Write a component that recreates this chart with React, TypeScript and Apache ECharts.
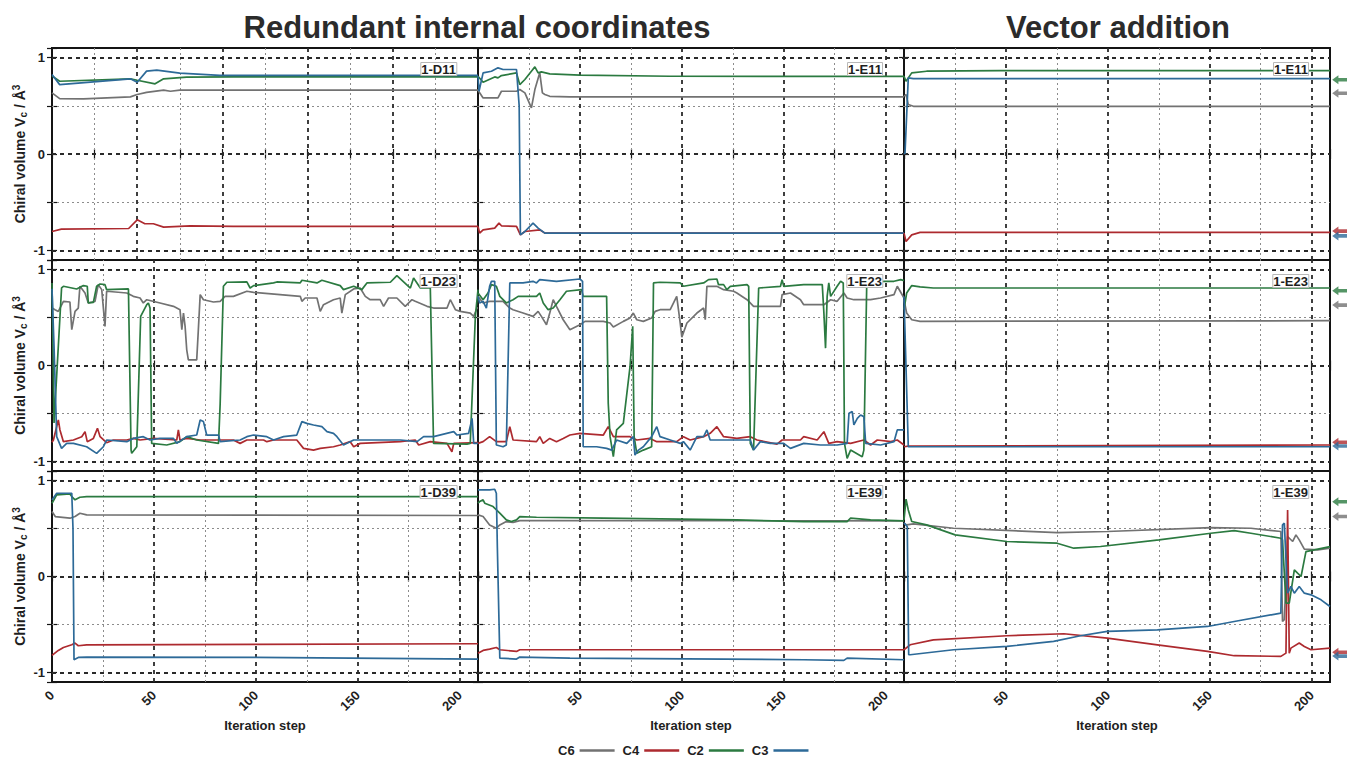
import React, { useEffect, useRef } from 'react';
import * as echarts from 'echarts';

// ---------------- data ----------------
const SERIES_NAMES = ['C6', 'C4', 'C2', 'C3'];
const COLORS = ['#727272', '#ad2a2f', '#2b7a40', '#2d6a98'];
const X_LABELS = [0, 50, 100, 150, 200];
const Y_LABELS = [-1, 0, 1];

// 1-D11, redundant internal coordinates (its own x scale, 0..50)
const D11_C6 = [[0, 0.635], [0.9, 0.575], [3.7, 0.572], [9.2, 0.593], [10, 0.617], [11.1, 0.64], [13.1, 0.662], [13.9, 0.651], [15, 0.662], [50, 0.662]];
const D11_C4 = [[0, -0.804], [1.1, -0.78], [9, -0.773], [10, -0.683], [10.9, -0.724], [11.9, -0.724], [13.1, -0.759], [16.2, -0.745], [21.3, -0.752], [50, -0.752]];
const D11_C2 = [[0, 0.81], [0.9, 0.755], [9.2, 0.78], [10, 0.765], [12.1, 0.728], [13.1, 0.78], [15.8, 0.797], [21.3, 0.8], [50, 0.8]];
const D11_C3 = [[0, 0.825], [0.9, 0.72], [9.2, 0.78], [10, 0.745], [11.1, 0.86], [12.3, 0.87], [15, 0.84], [19.7, 0.815], [50, 0.815]];

// 1-E11, redundant internal coordinates
const IC_E11_C6 = [[0, 0.662], [2.5, 0.582], [9.8, 0.582], [11.5, 0.651], [18.9, 0.651], [20.5, 0.669], [23, 0.634], [26.2, 0.478], [27.9, 0.669], [30.3, 0.842], [31.6, 0.634], [32.8, 0.617], [35.2, 0.599], [45, 0.593], [209, 0.593]];
const IC_E11_C4 = [[0, -0.752], [0.8, -0.821], [2.5, -0.787], [8.2, -0.769], [10.3, -0.717], [11.5, -0.745], [18.9, -0.752], [20.8, -0.839], [23, -0.804], [30.3, -0.787], [32.8, -0.821], [209, -0.821]];
const IC_E11_C2 = [[0, 0.807], [2.5, 0.745], [8.2, 0.8], [9.8, 0.79], [11.5, 0.814], [18.9, 0.842], [20.5, 0.72], [23, 0.773], [26.2, 0.859], [27.9, 0.904], [29.5, 0.842], [31.1, 0.852], [35.2, 0.832], [50, 0.818], [94.3, 0.807], [209, 0.805]];
const IC_E11_C3 = [[0, 0.807], [0.5, 0.651], [2.5, 0.842], [6.6, 0.859], [9.8, 0.894], [12.3, 0.877], [18.9, 0.877], [20.2, 0.5], [20.8, -0.839], [23, -0.804], [27, -0.717], [29.5, -0.769], [32.8, -0.821], [209, -0.821]];

// 1-E11, vector addition
const VA_E11_C6 = [[0, 0.6], [1, 0.617], [2.1, 0.513], [4.6, 0.495], [209, 0.495]];
const VA_E11_C4 = [[0, -0.821], [1, -0.908], [3.8, -0.839], [7.9, -0.814], [209, -0.814]];
const VA_E11_C2 = [[0, 0.807], [1, 0.755], [3.8, 0.842], [11.1, 0.859], [47.2, 0.866], [209, 0.866]];
const VA_E11_C3 = [[0, 0.0], [0.5, 0.01], [2.1, 0.79], [4.6, 0.783], [209, 0.783]];
const VA_E11_REF = [0.63, -0.8, 0.77, -0.85];

// 1-D23, redundant internal coordinates
const D23_C6 = [[0, 0.6], [1.5, 0.582], [3.1, 0.564], [5.6, 0.669], [8.8, 0.662], [9.7, 0.373], [11.3, 0.564], [12.9, 0.599], [13.7, 0.826], [16.2, 0.756], [17.8, 0.652], [21.1, 0.669], [22.7, 0.843], [24.4, 0.791], [26, 0.408], [26.8, 0.774], [36.7, 0.756], [39.9, 0.721], [43.2, 0.704], [44.8, 0.652], [46.5, 0.686], [53, 0.652], [59.6, 0.617], [62.8, 0.582], [63.7, 0.373], [64.5, 0.547], [65.3, 0.408], [66.1, 0.164], [66.9, 0.059], [71, 0.059], [71.8, 0.373], [72.7, 0.739], [74.3, 0.686], [79.2, 0.662], [82.5, 0.669], [84.9, 0.721], [89, 0.721], [95.6, 0.774], [98.9, 0.763], [121.8, 0.721], [122.6, 0.669], [124.2, 0.704], [130, 0.704], [131.6, 0.564], [133.2, 0.634], [138.1, 0.686], [141.4, 0.704], [142.2, 0.547], [143.9, 0.739], [148, 0.798], [151.2, 0.808], [153.7, 0.721], [156.1, 0.686], [161, 0.686], [162.7, 0.617], [165.1, 0.704], [169.2, 0.704], [173.3, 0.617], [176.6, 0.686], [178.2, 0.669], [184, 0.617], [187.2, 0.599], [193.8, 0.599], [195.4, 0.686], [197.9, 0.582], [200.3, 0.564], [205.2, 0.547], [206.9, 0.512], [208.5, 0.599], [209, 0.6]];
const D23_C4 = [[0, -0.8], [0.7, -0.777], [3.1, -0.568], [3.9, -0.672], [5.6, -0.794], [10.5, -0.777], [14.6, -0.742], [16.2, -0.69], [17.3, -0.794], [20.3, -0.76], [22.3, -0.655], [23.6, -0.742], [26.8, -0.805], [30.1, -0.777], [36.7, -0.777], [39.9, -0.76], [43.2, -0.777], [49.8, -0.76], [61.2, -0.777], [62, -0.672], [62.8, -0.777], [66.1, -0.76], [72.7, -0.777], [89, -0.777], [92.3, -0.812], [95.6, -0.777], [103.8, -0.777], [105.4, -0.794], [108.7, -0.777], [120.1, -0.777], [123.4, -0.864], [128.3, -0.882], [131.6, -0.864], [138.1, -0.847], [141.4, -0.829], [146.3, -0.794], [148, -0.847], [151.2, -0.812], [170.9, -0.794], [178.2, -0.777], [179.9, -0.829], [185.6, -0.794], [193.8, -0.812], [196.2, -0.899], [197.1, -0.812], [209, -0.805]];
const D23_C2 = [[0, 0.86], [1, -0.6], [4.7, 0.81], [5.6, 0.826], [12.1, 0.798], [15.4, 0.833], [17.3, 0.826], [17.8, 0.652], [20.3, 0.659], [21.9, 0.826], [23.6, 0.85], [26, 0.843], [26.8, 0.791], [37.5, 0.798], [38.8, -0.882], [39.1, -0.916], [41.6, -0.847], [41.9, -0.85], [43.5, 0.512], [46.5, 0.634], [47.3, 0.652], [48.1, 0.6], [48.9, -0.812], [56.3, -0.829], [62.8, -0.794], [66.1, -0.742], [71, -0.777], [81.7, -0.812], [82.5, -0.4], [84.1, 0.826], [85.8, 0.868], [95.6, 0.871], [97.2, 0.808], [98.9, 0.833], [108.7, 0.861], [110.3, 0.871], [121.8, 0.861], [122.6, 0.889], [130, 0.861], [132.4, 0.889], [141.4, 0.833], [143, 0.791], [148, 0.826], [152, 0.791], [154.5, 0.861], [166, 0.868], [169.2, 0.937], [175.8, 0.808], [177.4, 0.913], [180.7, 0.808], [185.6, 0.808], [187.2, -0.812], [203.6, -0.819], [205.2, -0.812], [207.7, 0.512], [209, 0.791]];
const D23_C3 = [[0, 0.8], [1, 0.2], [2.3, -0.742], [4.7, -0.864], [7.2, -0.812], [10.5, -0.812], [17, -0.847], [21.9, -0.916], [25.2, -0.847], [26.8, -0.777], [36.7, -0.794], [39.9, -0.76], [44.8, -0.742], [48.1, -0.777], [53, -0.76], [59.6, -0.76], [61.2, -0.812], [66.1, -0.742], [71, -0.725], [72.7, -0.568], [74.3, -0.585], [75.9, -0.725], [81.7, -0.725], [82.5, -0.794], [92.3, -0.777], [95.6, -0.742], [98.9, -0.725], [105.4, -0.742], [108.7, -0.777], [113.6, -0.742], [120.1, -0.725], [122.6, -0.585], [125, -0.603], [128.3, -0.62], [132.4, -0.638], [134.9, -0.69], [138.1, -0.707], [139.8, -0.742], [143, -0.829], [148, -0.777], [154.5, -0.777], [170.9, -0.777], [179.1, -0.794], [182.3, -0.742], [187.2, -0.742], [197.1, -0.69], [198.7, -0.725], [204.4, -0.707], [206.1, -0.551], [206.9, -0.812], [209, -0.812]];

// 1-E23, redundant internal coordinates
const IC_E23_C6 = [[0, 0.721], [2.5, 0.652], [5.7, 0.669], [12.3, 0.669], [15.6, 0.599], [17.2, 0.582], [22.1, 0.547], [27, 0.512], [29.5, 0.564], [31.1, 0.512], [33.6, 0.425], [35.2, 0.547], [36.9, 0.686], [38.5, 0.617], [41.8, 0.477], [45.1, 0.373], [50, 0.425], [52.5, 0.46], [61.5, 0.46], [64.8, 0.443], [66.4, 0.401], [71.3, 0.46], [74.6, 0.495], [76.2, 0.547], [77.9, 0.477], [81.1, 0.46], [85.2, 0.495], [86.9, 0.564], [89.3, 0.582], [94.3, 0.582], [97.5, 0.721], [99.2, 0.443], [100, 0.296], [102.5, 0.443], [107.4, 0.547], [110.7, 0.599], [111.5, 0.477], [112.3, 0.826], [117.2, 0.826], [120.5, 0.791], [125.4, 0.774], [127, 0.756], [132, 0.686], [135.2, 0.617], [148.4, 0.617], [149.2, 0.739], [153.3, 0.756], [158.2, 0.686], [159.8, 0.634], [169.7, 0.634], [173, 0.686], [176.2, 0.669], [179.5, 0.756], [181.1, 0.704], [184.4, 0.686], [192.6, 0.686], [197.5, 0.704], [204.1, 0.739], [205.7, 0.826], [209, 0.704]];
const IC_E23_C4 = [[0, -0.812], [2.5, -0.794], [5.7, -0.742], [9, -0.794], [13.9, -0.794], [15.6, -0.638], [17.2, -0.777], [28.7, -0.794], [30.3, -0.742], [32, -0.812], [35.2, -0.76], [38.5, -0.794], [41.8, -0.76], [45.1, -0.725], [50, -0.707], [61.5, -0.725], [63.9, -0.638], [66.4, -0.742], [74.6, -0.742], [77.9, -0.777], [84.4, -0.76], [87.7, -0.794], [97.5, -0.794], [100.8, -0.742], [104.1, -0.777], [110.7, -0.742], [113.9, -0.707], [117.2, -0.638], [120.5, -0.742], [127, -0.76], [133.6, -0.742], [136.9, -0.777], [146.7, -0.82], [149.2, -0.777], [158.2, -0.777], [159.8, -0.742], [166.4, -0.777], [169.7, -0.69], [172.1, -0.812], [176.2, -0.794], [182.8, -0.812], [189.3, -0.777], [192.6, -0.829], [195.9, -0.777], [202.5, -0.794], [205.7, -0.777], [209, -0.829]];
const IC_E23_C2 = [[0, 0.756], [2.5, 0.686], [4.9, 0.756], [6.6, 0.843], [9, 0.826], [10.7, 0.721], [13.9, 0.652], [17.2, 0.686], [19.7, 0.721], [28.7, 0.721], [30.3, 0.756], [32, 0.652], [34.4, 0.582], [36.9, 0.599], [40.2, 0.686], [43.4, 0.774], [50.8, 0.791], [51.6, 0.721], [63.1, 0.721], [63.9, -0.394], [64.8, -0.742], [66.4, -0.951], [68, -0.672], [71.3, -0.603], [74.6, -0.01], [75.9, 0.408], [76.6, -0.742], [77.9, -0.916], [81.1, -0.882], [85.2, -0.847], [86.1, 0.861], [89.3, 0.868], [99.2, 0.861], [100.8, 0.826], [110.7, 0.861], [113.1, 0.895], [117.2, 0.902], [118, 0.843], [120.5, 0.843], [122.1, 0.791], [123.8, 0.826], [132, 0.843], [132.8, 0.826], [133.6, -0.812], [135.2, -0.882], [137.7, 0.808], [148.4, 0.826], [149.2, 0.895], [150, 0.826], [159.8, 0.843], [168.9, 0.843], [169.7, 0.547], [170.5, 0.181], [171.3, 0.721], [172.1, 0.861], [173, 0.721], [176.2, 0.826], [177.9, 0.878], [179.2, 0.861], [179.8, -0.812], [181.1, -0.969], [182.8, -0.882], [188.5, -0.951], [189.3, -0.882], [190.7, 0.826], [199.2, 0.878], [204.1, 0.878], [207.4, 0.895], [209, 0.885]];
const IC_E23_C3 = [[0, 0.721], [0.8, 0.652], [2.5, 0.669], [4.1, 0.599], [5.7, 0.826], [6.6, 0.878], [8.2, 0.878], [9, -0.829], [12.3, -0.847], [13.9, -0.829], [15.6, 0.861], [22.1, 0.861], [27, 0.878], [28.7, 0.861], [30.3, 0.895], [38.5, 0.878], [50, 0.902], [51.3, 0.878], [51.6, -0.847], [58.2, -0.847], [63.1, -0.864], [65.6, -0.882], [68, -0.777], [73, -0.812], [76.2, -0.742], [77, -0.934], [78.7, -0.882], [81.1, -0.847], [85.2, -0.742], [87.7, -0.638], [89.3, -0.742], [94.3, -0.777], [99.2, -0.812], [100.8, -0.794], [104.1, -0.882], [107.4, -0.742], [110.7, -0.742], [112.3, -0.672], [113.9, -0.777], [133.6, -0.777], [135.2, -0.882], [138.5, -0.794], [143.4, -0.812], [150, -0.812], [153.3, -0.864], [159.8, -0.812], [168, -0.829], [176.2, -0.829], [181.1, -0.812], [182, -0.498], [183.6, -0.481], [184.4, -0.62], [186.1, -0.551], [187.7, -0.516], [189.3, -0.533], [190.2, -0.812], [197.5, -0.829], [204.1, -0.794], [205.7, -0.672], [209, -0.672]];

// 1-E23, vector addition
const VA_E23_C6 = [[0, 0.686], [1.3, 0.547], [3.8, 0.477], [7.9, 0.46], [209, 0.467]];
const VA_E23_C4 = [[0, -0.847], [2.1, -0.84], [209, -0.829]];
const VA_E23_C2 = [[0, 0.582], [1.3, 0.756], [3.8, 0.833], [7.9, 0.819], [14.4, 0.808], [209, 0.808]];
const VA_E23_C3 = [[0, 0.72], [2.1, -0.847], [209, -0.847]];
const VA_E23_REF = [0.63, -0.8, 0.78, -0.84];

// 1-D39, redundant internal coordinates
const D39_C6 = [[0, 0.677], [1.6, 0.625], [8.8, 0.608], [11.3, 0.625], [13.7, 0.66], [17, 0.642], [209, 0.636]];
const D39_C4 = [[0, -0.823], [3.1, -0.771], [5.6, -0.74], [9.7, -0.712], [11.3, -0.694], [12.9, -0.722], [17, -0.712], [209, -0.701]];
const D39_C2 = [[0, 0.764], [2.3, 0.851], [8.8, 0.861], [9.7, 0.833], [11.3, 0.799], [13.7, 0.826], [17, 0.833], [209, 0.833]];
const D39_C3 = [[0, 0.799], [2.3, 0.868], [9.7, 0.868], [10.3, 0.5], [10.8, -0.868], [12.9, -0.844], [17, -0.84], [100, -0.844], [209, -0.861]];

// 1-E39, redundant internal coordinates
const IC_E39_C6 = [[0, 0.642], [2.5, 0.625], [5.7, 0.538], [9, 0.503], [10.7, 0.538], [13.9, 0.573], [17.2, 0.563], [20.5, 0.583], [209, 0.58]];
const IC_E39_C4 = [[0, -0.799], [2.5, -0.771], [5.7, -0.757], [9, -0.74], [10.7, -0.764], [18.9, -0.781], [20.5, -0.764], [209, -0.764]];
const IC_E39_C2 = [[0, 0.764], [0.8, 0.781], [2.5, 0.799], [3.3, 0.764], [7.4, 0.729], [10.7, 0.66], [13.9, 0.59], [16.4, 0.573], [18.9, 0.59], [20.5, 0.625], [28.7, 0.618], [61.5, 0.608], [127, 0.59], [159.8, 0.573], [181.1, 0.573], [182.8, 0.608], [192.6, 0.59], [209, 0.58]];
const IC_E39_C3 = [[0, 0.903], [5.7, 0.903], [8.2, 0.91], [9, 0.868], [9.5, 0.3], [10.7, -0.851], [18.9, -0.861], [20.5, -0.84], [45.1, -0.851], [159.8, -0.868], [179.5, -0.875], [181.1, -0.851], [209, -0.868]];

// 1-E39, vector addition
const VA_E39_C6 = [[0, 0.556], [1.3, 0.538], [4.6, 0.549], [24.3, 0.503], [75.1, 0.458], [99.7, 0.469], [150.5, 0.51], [170.2, 0.503], [184.9, 0.469], [185.7, -0.469], [186.6, -0.451], [188.2, 0.417], [190.7, 0.365], [192.3, 0.434], [193.9, 0.382], [196.4, 0.285], [203, 0.278], [209, 0.295]];
const VA_E39_C4 = [[0, -0.764], [3, -0.712], [14.4, -0.66], [50.5, -0.618], [78.4, -0.597], [99.7, -0.642], [124.3, -0.712], [148.9, -0.781], [162, -0.826], [184.9, -0.833], [187.4, -0.799], [188.2, 0.694], [189, -0.799], [189.8, -0.747], [193.9, -0.694], [196.4, -0.729], [199.7, -0.764], [209, -0.747]];
const VA_E39_C2 = [[0, 0.59], [1, 0.806], [2.1, 0.694], [3.8, 0.573], [11.1, 0.538], [25.1, 0.434], [50.5, 0.365], [75.1, 0.347], [83.3, 0.295], [96.4, 0.313], [125.1, 0.382], [150.5, 0.451], [162, 0.479], [170.2, 0.451], [184.9, 0.399], [185.7, 0.382], [187.4, -0.278], [189, -0.278], [191.5, 0.069], [193.1, 0.035], [194.8, 0.0], [196.4, 0.174], [197.2, 0.26], [201.3, 0.278], [209, 0.312]];
const VA_E39_C3 = [[0, 0.56], [1.6, 0.52], [2.3, -0.816], [3, -0.816], [24.3, -0.764], [50.5, -0.729], [73.4, -0.677], [86.6, -0.618], [99.7, -0.573], [124.3, -0.556], [148.9, -0.521], [162, -0.469], [184.9, -0.382], [185.7, 0.538], [186.6, 0.556], [187.4, 0.174], [188.2, -0.174], [189.8, -0.104], [191.5, -0.174], [193.9, -0.104], [196.4, -0.174], [199.7, -0.191], [204.6, -0.243], [209, -0.313]];
const VA_E39_REF = [0.625, -0.79, 0.78, -0.83];

// ---------------- layout ----------------
const FONT = '"Liberation Sans", Arial, Helvetica, sans-serif';
const COL_LEFT = [52, 478, 904];
const COL_W = 426;
const ROW_TOP = [48, 260, 471];
const ROW_H = [212, 211, 211];
const X_MAX = 209;
const ARROW_X = 214;
const ARROW_PATH = 'path://M0,5L7,0L7,3L18,3L18,7L7,7L7,10Z';

const PANELS = [
  { label: '1-D11', row: 0, col: 0, xMax: 50, xStep: 5, data: [D11_C6, D11_C4, D11_C2, D11_C3] },
  { label: '1-E11', row: 0, col: 1, data: [IC_E11_C6, IC_E11_C4, IC_E11_C2, IC_E11_C3] },
  { label: '1-E11', row: 0, col: 2, data: [VA_E11_C6, VA_E11_C4, VA_E11_C2, VA_E11_C3], ref: VA_E11_REF },
  { label: '1-D23', row: 1, col: 0, data: [D23_C6, D23_C4, D23_C2, D23_C3] },
  { label: '1-E23', row: 1, col: 1, data: [IC_E23_C6, IC_E23_C4, IC_E23_C2, IC_E23_C3] },
  { label: '1-E23', row: 1, col: 2, data: [VA_E23_C6, VA_E23_C4, VA_E23_C2, VA_E23_C3], ref: VA_E23_REF },
  { label: '1-D39', row: 2, col: 0, data: [D39_C6, D39_C4, D39_C2, D39_C3] },
  { label: '1-E39', row: 2, col: 1, data: [IC_E39_C6, IC_E39_C4, IC_E39_C2, IC_E39_C3] },
  { label: '1-E39', row: 2, col: 2, data: [VA_E39_C6, VA_E39_C4, VA_E39_C2, VA_E39_C3], ref: VA_E39_REF },
];

const MAJOR = { type: [4, 4], color: '#2a2a2a', width: 1.8, opacity: 1 };
const MINOR = { type: [2, 3], color: '#8c8c8c', width: 1, opacity: 1 };

function buildOption() {
  const grid: any[] = [];
  const xAxis: any[] = [];
  const yAxis: any[] = [];
  const series: any[] = [];
  const title: any[] = [];

  PANELS.forEach((p: any, i: number) => {
    const xMax = p.xMax ?? X_MAX;
    const xStep = p.xStep ?? 25;
    const bottomRow = p.row === 2;
    const leftCol = p.col === 0;
    grid.push({
      left: COL_LEFT[p.col], top: ROW_TOP[p.row], width: COL_W, height: ROW_H[p.row],
      show: true, borderColor: '#141414', borderWidth: 2, backgroundColor: 'rgba(0,0,0,0)',
    });
    const tick = { show: true, inside: true, length: 5, lineStyle: { color: '#141414', width: 1.2 } };
    xAxis.push({
      type: 'value', gridIndex: i, position: 'bottom', min: 0, max: xMax, interval: xStep,
      axisLine: { show: false }, axisTick: tick, splitLine: { show: false },
      axisLabel: {
        show: bottomRow, rotate: 45, margin: 11, fontSize: 13, fontWeight: 'bold', color: '#1e1e1e', fontFamily: FONT,
        formatter: (v: number) => (X_LABELS.includes(v) && (leftCol || v !== 0) ? String(v) : ''),
      },
      name: bottomRow ? 'Iteration step' : '', nameLocation: 'middle', nameGap: 37,
      nameTextStyle: { fontSize: 13, fontWeight: 'bold', color: '#1e1e1e', fontFamily: FONT },
    });
    xAxis.push({
      type: 'value', gridIndex: i, position: 'top', min: 0, max: xMax, interval: xStep,
      axisLine: { show: false }, axisTick: tick, splitLine: { show: false }, axisLabel: { show: false },
    });
    yAxis.push({
      type: 'value', gridIndex: i, position: 'left', min: -1.1, max: 1.1, splitNumber: 4,
      axisLine: { show: false }, axisTick: tick, splitLine: { show: false },
      axisLabel: {
        show: leftCol, margin: 7, fontSize: 13, fontWeight: 'bold', color: '#1e1e1e', fontFamily: FONT,
        formatter: (v: number) => (Y_LABELS.some((t) => Math.abs(t - v) < 1e-6) ? String(Math.round(v)) : ''),
      },
      name: leftCol ? '{a|Chiral volume V}{b|c}{a| / Å}{c|3}' : '',
      nameLocation: 'middle', nameGap: 24,
      nameTextStyle: {
        fontSize: 14, fontWeight: 'bold', color: '#1e1e1e', fontFamily: FONT,
        rich: {
          a: { fontSize: 14, fontWeight: 'bold', color: '#1e1e1e', fontFamily: FONT, lineHeight: 17 },
          b: { fontSize: 10, fontWeight: 'bold', color: '#1e1e1e', fontFamily: FONT, lineHeight: 10, verticalAlign: 'bottom' },
          c: { fontSize: 10, fontWeight: 'bold', color: '#1e1e1e', fontFamily: FONT, lineHeight: 10, verticalAlign: 'top' },
        },
      },
    });
    yAxis.push({
      type: 'value', gridIndex: i, position: 'right', min: -1.1, max: 1.1, splitNumber: 4,
      axisLine: { show: false }, axisTick: tick, splitLine: { show: false }, axisLabel: { show: false },
    });

    const xMajor = p.xMax ? [10, 20, 30, 40] : [50, 100, 150, 200];
    const xMinor = p.xMax ? [5, 15, 25, 35, 45] : [25, 75, 125, 175];
    const gridLines = [
      ...xMinor.map((x) => ({ xAxis: x, lineStyle: MINOR })),
      ...[-0.5, 0.5].map((y) => ({ yAxis: y, lineStyle: MINOR })),
      ...xMajor.map((x) => ({ xAxis: x, lineStyle: MAJOR })),
      ...Y_LABELS.map((y) => ({ yAxis: y, lineStyle: MAJOR })),
    ];

    p.data.forEach((d: number[][], k: number) => {
      const s: any = {
        type: 'line', name: SERIES_NAMES[k], data: d, xAxisIndex: 2 * i, yAxisIndex: 2 * i,
        showSymbol: false, symbol: 'none', color: COLORS[k],
        lineStyle: { width: 1.7, color: COLORS[k] }, itemStyle: { color: COLORS[k] }, z: 3,
        emphasis: { disabled: true },
      };
      if (k === 0) {
        s.markLine = {
          silent: true, symbol: ['none', 'none'], z: 1, animation: false,
          label: { show: false }, emphasis: { disabled: true }, data: gridLines,
        };
      }
      series.push(s);
    });

    if (p.ref) {
      series.push({
        type: 'scatter', name: 'reference', xAxisIndex: 2 * i, yAxisIndex: 2 * i, clip: false,
        symbol: ARROW_PATH, symbolSize: [16, 9], z: 4, silent: true,
        data: p.ref.map((v: number, k: number) => ({ value: [ARROW_X, v], itemStyle: { color: COLORS[k] } })),
      });
    }

    const right = 1347 - (COL_LEFT[p.col] + COL_W - 21);
    title.push({
      text: p.label, right, top: ROW_TOP[p.row] + 14,
      backgroundColor: '#ffffff', borderColor: '#b8b8b8', borderWidth: 1, padding: [0, 1],
      textStyle: { fontSize: 13, fontWeight: 'bold', color: '#1e1e1e', fontFamily: FONT, lineHeight: 14 },
    });
  });

  return {
    animation: false,
    backgroundColor: '#ffffff',
    title,
    grid,
    xAxis,
    yAxis,
    series,
    legend: {
      data: SERIES_NAMES, left: 553, top: 739, align: 'right', icon: 'rect',
      itemWidth: 35, itemHeight: 2.5, itemGap: 8,
      textStyle: { fontSize: 13, fontWeight: 'bold', color: '#1e1e1e', fontFamily: FONT },
    },
    graphic: [
      {
        type: 'text', x: 477, y: 27,
        style: {
          text: 'Redundant internal coordinates', font: `bold 31px ${FONT}`, fill: '#2b2b2b',
          align: 'center', verticalAlign: 'middle', textAlign: 'center', textVerticalAlign: 'middle',
        },
      },
      {
        type: 'text', x: 1118, y: 27,
        style: {
          text: 'Vector addition', font: `bold 31px ${FONT}`, fill: '#2b2b2b',
          align: 'center', verticalAlign: 'middle', textAlign: 'center', textVerticalAlign: 'middle',
        },
      },
    ],
  };
}

export default function App() {
  const ref = useRef<HTMLDivElement>(null);
  useEffect(() => {
    document.body.style.margin = '0';
    const chart = echarts.init(ref.current as HTMLDivElement, null, { renderer: 'svg' });
    chart.setOption(buildOption() as any);
    return () => chart.dispose();
  }, []);
  return <div ref={ref} style={{ width: 1347, height: 759 }} />;
}
